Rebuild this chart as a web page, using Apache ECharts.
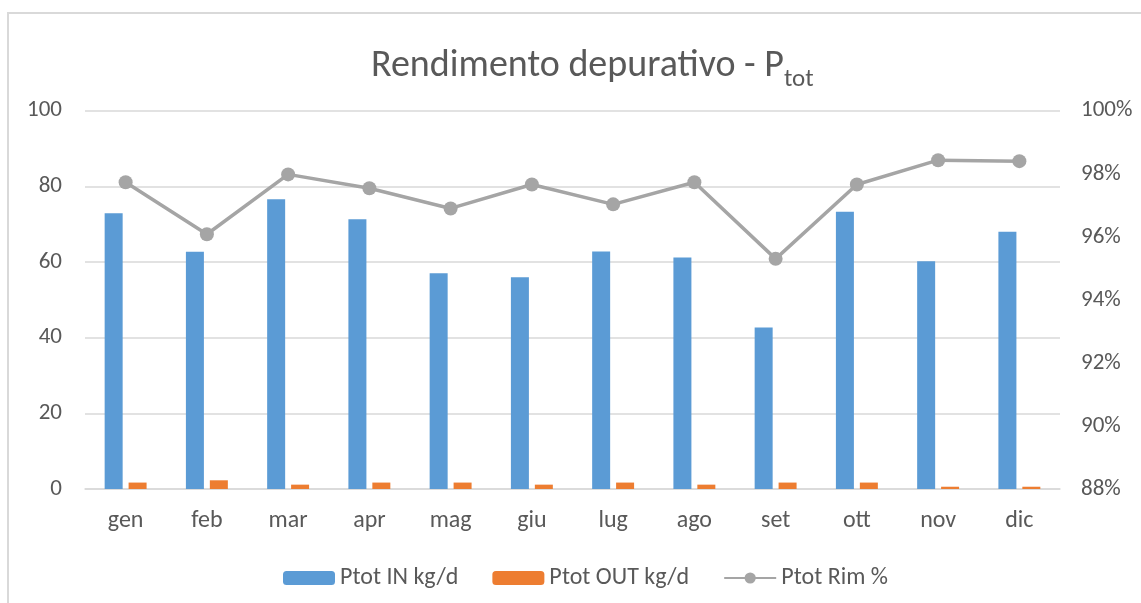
<!DOCTYPE html>
<html>
<head>
<meta charset="utf-8">
<script src="https://cdn.jsdelivr.net/npm/echarts@6/dist/echarts.min.js"></script>
<style>
  html, body { margin: 0; padding: 0; background: #fff; }
  #main { width: 1141px; height: 603px; }
</style>
</head>
<body>
<div id="main"></div>
<script>
// mesi
const mesi = ['gen', 'feb', 'mar', 'apr', 'mag', 'giu', 'lug', 'ago', 'set', 'ott', 'nov', 'dic'];
// Ptot IN kg/d
const ptotIn = [72.9, 62.7, 76.6, 71.3, 57.0, 56.0, 62.8, 61.2, 42.7, 73.3, 60.2, 68.0];
// Ptot OUT kg/d
const ptotOut = [1.7, 2.3, 1.15, 1.7, 1.7, 1.15, 1.7, 1.15, 1.7, 1.7, 0.6, 0.6];
// Ptot Rim %
const ptotRim = [97.73, 96.08, 97.98, 97.54, 96.90, 97.66, 97.03, 97.73, 95.30, 97.66, 98.43, 98.40];

const font = 'Carlito, "Liberation Sans Narrow", "Open Sans", sans-serif';
const grigio = '#595959';

var chart = echarts.init(document.getElementById('main'));

var option = {
    animation: false,
    textStyle: { fontFamily: font },
    // cornice del grafico
    graphic: [{
        type: 'rect',
        silent: true,
        shape: { x: 8, y: 13, width: 1200, height: 700 },
        style: { fill: 'none', stroke: '#d9d9d9', lineWidth: 2 }
    }],
    title: {
        text: 'Rendimento depurativo - P{sub|tot}',
        left: 366,
        top: 36,
        textStyle: {
            fontFamily: font,
            fontSize: 38,
            fontWeight: 'normal',
            color: grigio,
            rich: {
                sub: { fontFamily: font, fontSize: 25, color: grigio, padding: [26, 0, 0, 0] }
            }
        }
    },
    legend: {
        left: 278,
        top: 561,
        itemWidth: 52,
        itemHeight: 14,
        itemGap: 34,
        textStyle: { fontFamily: font, fontSize: 24, color: grigio },
        data: ['Ptot IN kg/d', 'Ptot OUT kg/d', 'Ptot Rim %']
    },
    grid: { left: 85, right: 81, top: 110.7, bottom: 114 },
    xAxis: {
        type: 'category',
        data: mesi,
        axisTick: { show: false },
        axisLine: { lineStyle: { color: '#d9d9d9', width: 1.5 } },
        axisLabel: { fontFamily: font, fontSize: 24, color: grigio, margin: 20 }
    },
    yAxis: [{
        type: 'value',
        min: 0, max: 100, interval: 20,
        axisLabel: { fontFamily: font, fontSize: 23, color: grigio, margin: 23 },
        splitLine: { lineStyle: { color: '#d9d9d9', width: 1.5 } }
    }, {
        type: 'value',
        min: 88, max: 100, interval: 2,
        axisLabel: { fontFamily: font, fontSize: 23, color: grigio, margin: 21, formatter: '{value}%' },
        splitLine: { show: false }
    }],
    series: [{
        name: 'Ptot IN kg/d',
        type: 'bar',
        data: ptotIn,
        barWidth: 18,
        barGap: '33%',
        itemStyle: { color: '#5b9bd5' }
    }, {
        name: 'Ptot OUT kg/d',
        type: 'bar',
        data: ptotOut,
        barWidth: 18,
        itemStyle: { color: '#ed7d31' }
    }, {
        name: 'Ptot Rim %',
        type: 'line',
        yAxisIndex: 1,
        data: ptotRim,
        symbol: 'circle',
        symbolSize: 14,
        lineStyle: { color: '#a5a5a5', width: 3.5 },
        itemStyle: { color: '#a5a5a5' }
    }]
};

chart.setOption(option);
</script>
</body>
</html>
